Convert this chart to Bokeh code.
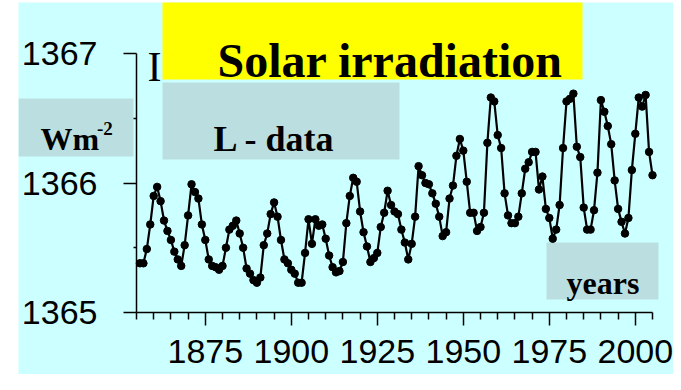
from bokeh.plotting import figure
from bokeh.models import Range1d, LinearAxis, FixedTicker
from bokeh.embed import file_html
from bokeh.resources import INLINE
from bokeh.core.properties import value

# ---------------- data ----------------
years = list(range(1856, 2006))
irradiance = [
    1365.38, 1365.38, 1365.49, 1365.68, 1365.90, 1365.97, 1365.86, 1365.71, 1365.63, 1365.56,  # 1856-1865
    1365.47, 1365.41, 1365.36, 1365.52, 1365.75, 1365.99, 1365.93, 1365.88, 1365.68, 1365.56,  # 1866-1875
    1365.41, 1365.36, 1365.35, 1365.33, 1365.36, 1365.50, 1365.64, 1365.67, 1365.71, 1365.61,  # 1876-1885
    1365.50, 1365.34, 1365.30, 1365.25, 1365.23, 1365.27, 1365.52, 1365.61, 1365.76, 1365.85,  # 1886-1895
    1365.74, 1365.56, 1365.41, 1365.38, 1365.33, 1365.30, 1365.23, 1365.23, 1365.46, 1365.72,  # 1896-1905
    1365.53, 1365.72, 1365.67, 1365.68, 1365.57, 1365.44, 1365.35, 1365.31, 1365.32, 1365.39,  # 1906-1915
    1365.69, 1365.90, 1366.04, 1366.01, 1365.78, 1365.62, 1365.51, 1365.39, 1365.42, 1365.46,  # 1916-1925
    1365.66, 1365.77, 1365.94, 1365.83, 1365.78, 1365.76, 1365.64, 1365.54, 1365.41, 1365.53,  # 1926-1935
    1365.74, 1366.13, 1366.06, 1366.00, 1365.99, 1365.92, 1365.84, 1365.74, 1365.59, 1365.62,  # 1936-1945
    1365.88, 1365.98, 1366.21, 1366.34, 1366.25, 1366.01, 1365.77, 1365.77, 1365.63, 1365.66,  # 1946-1955
    1365.77, 1366.31, 1366.66, 1366.63, 1366.37, 1366.27, 1365.92, 1365.75, 1365.69, 1365.69,  # 1956-1965
    1365.74, 1365.92, 1366.11, 1366.16, 1366.24, 1366.24, 1365.95, 1366.05, 1365.80, 1365.73,  # 1966-1975
    1365.57, 1365.64, 1365.83, 1366.27, 1366.63, 1366.65, 1366.69, 1366.28, 1366.20, 1365.81,  # 1976-1985
    1365.64, 1365.64, 1365.79, 1366.08, 1366.64, 1366.55, 1366.44, 1366.30, 1366.02, 1365.80,  # 1986-1995
    1365.70, 1365.61, 1365.73, 1366.10, 1366.38, 1366.66, 1366.59, 1366.68, 1366.24, 1366.06,  # 1996-2005
]

y_ticks = [1365, 1366, 1367]
y_minor_ticks = [1365.5, 1366.5]
x_ticks = [1875, 1900, 1925, 1950, 1975, 2000]
x_minor_ticks = [1855, 1860, 1865, 1870, 1880, 1885, 1890, 1895, 1905, 1910, 1915, 1920,
                 1930, 1935, 1940, 1945, 1955, 1960, 1965, 1970, 1980, 1985, 1990, 1995, 2005]
x_bounds = (1855, 2005)
y_bounds = (1365, 1367)

title_text = "Solar irradiation"
series_text = "L - data"
unit_text = "Wm"
unit_sup_text = "-2"
xlabel_text = "years"
stray_text = "I"

# ---------------- layout (canvas pixels) ----------------
W, H = 673, 374
FRAME_LEFT, FRAME_TOP = 18, 2
AX_X, AX_RIGHT = 136, 652      # canvas x of 1855 and 2005
AX_TOP, AX_BOTTOM = 53, 312    # canvas y of 1367 and 1365
PX_YEAR = (AX_RIGHT - AX_X) / (x_bounds[1] - x_bounds[0])
PX_UNIT = (AX_BOTTOM - AX_TOP) / (y_bounds[1] - y_bounds[0])


def dx(cx):
    return x_bounds[0] + (cx - AX_X) / PX_YEAR


def dy(cy):
    return y_bounds[1] - (cy - AX_TOP) / PX_UNIT


BG = "#ccffff"
BOX = "#bbdfe0"
YELLOW = "#ffff00"
SERIF = "Liberation Serif"
SANS = "Liberation Sans"

p = figure(width=W, height=H,
           x_range=Range1d(dx(FRAME_LEFT), dx(W)),
           y_range=Range1d(dy(H), dy(FRAME_TOP)),
           x_axis_type=None, y_axis_type=None,
           output_backend="svg", toolbar_location=None,
           min_border_left=FRAME_LEFT, min_border_right=0,
           min_border_top=FRAME_TOP, min_border_bottom=0,
           background_fill_color=BG, border_fill_color="white",
           outline_line_color=None)

# boxes
p.quad(left=[dx(162)], right=[dx(582)], top=[dy(0)], bottom=[dy(79)],
       fill_color=YELLOW, line_color=None)
p.quad(left=[dx(162)], right=[dx(399)], top=[dy(82)], bottom=[dy(159)],
       fill_color=BOX, line_color=None)
p.quad(left=[dx(18)], right=[dx(133)], top=[dy(98)], bottom=[dy(156)],
       fill_color=BOX, line_color=None)
p.quad(left=[dx(546)], right=[dx(658)], top=[dy(242)], bottom=[dy(299)],
       fill_color=BOX, line_color=None)


def put_text(cx, cy, txt, size, bold=True, font=SERIF):
    p.text(x=[dx(cx)], y=[dy(cy)], text=[txt], text_font=value(font),
           text_font_style="bold" if bold else "normal",
           text_font_size=size, text_color="black",
           text_align="left", text_baseline="alphabetic")


put_text(217, 59.5, title_text, "48px")
put_text(213, 138, series_text, "36px")
put_text(40, 138, unit_text, "32px")
put_text(96.5, 128, unit_sup_text, "19px")
put_text(566, 282.5, xlabel_text, "32px")
put_text(147, 66, stray_text, "42px", bold=False)

# data
p.line(years, irradiance, line_color="black", line_width=2.2)
p.scatter(years, irradiance, size=7.5, marker="circle",
          fill_color="black", line_color="black")

# axes
yaxis = LinearAxis(fixed_location=x_bounds[0], bounds=y_bounds,
                   ticker=FixedTicker(ticks=y_ticks, minor_ticks=y_minor_ticks),
                   axis_line_color="black", axis_line_width=1.5,
                   major_tick_out=13, major_tick_in=0,
                   minor_tick_out=3, minor_tick_in=0,
                   major_tick_line_width=1.5, minor_tick_line_width=1.5,
                   major_tick_line_color="black", minor_tick_line_color="black",
                   major_label_standoff=26,
                   major_label_text_font=SANS,
                   major_label_text_font_size="34px",
                   major_label_text_color="black")
p.add_layout(yaxis, "left")

xaxis = LinearAxis(fixed_location=y_bounds[0], bounds=x_bounds,
                   ticker=FixedTicker(ticks=x_ticks, minor_ticks=x_minor_ticks),
                   axis_line_color="black", axis_line_width=1.5,
                   major_tick_out=13, major_tick_in=0,
                   minor_tick_out=7, minor_tick_in=0,
                   major_tick_line_width=1.5, minor_tick_line_width=1.5,
                   major_tick_line_color="black", minor_tick_line_color="black",
                   major_label_standoff=14,
                   major_label_text_font=SANS,
                   major_label_text_font_size="34px",
                   major_label_text_color="black")
p.add_layout(xaxis, "below")

open("out.html", "w").write(file_html(p, INLINE))
